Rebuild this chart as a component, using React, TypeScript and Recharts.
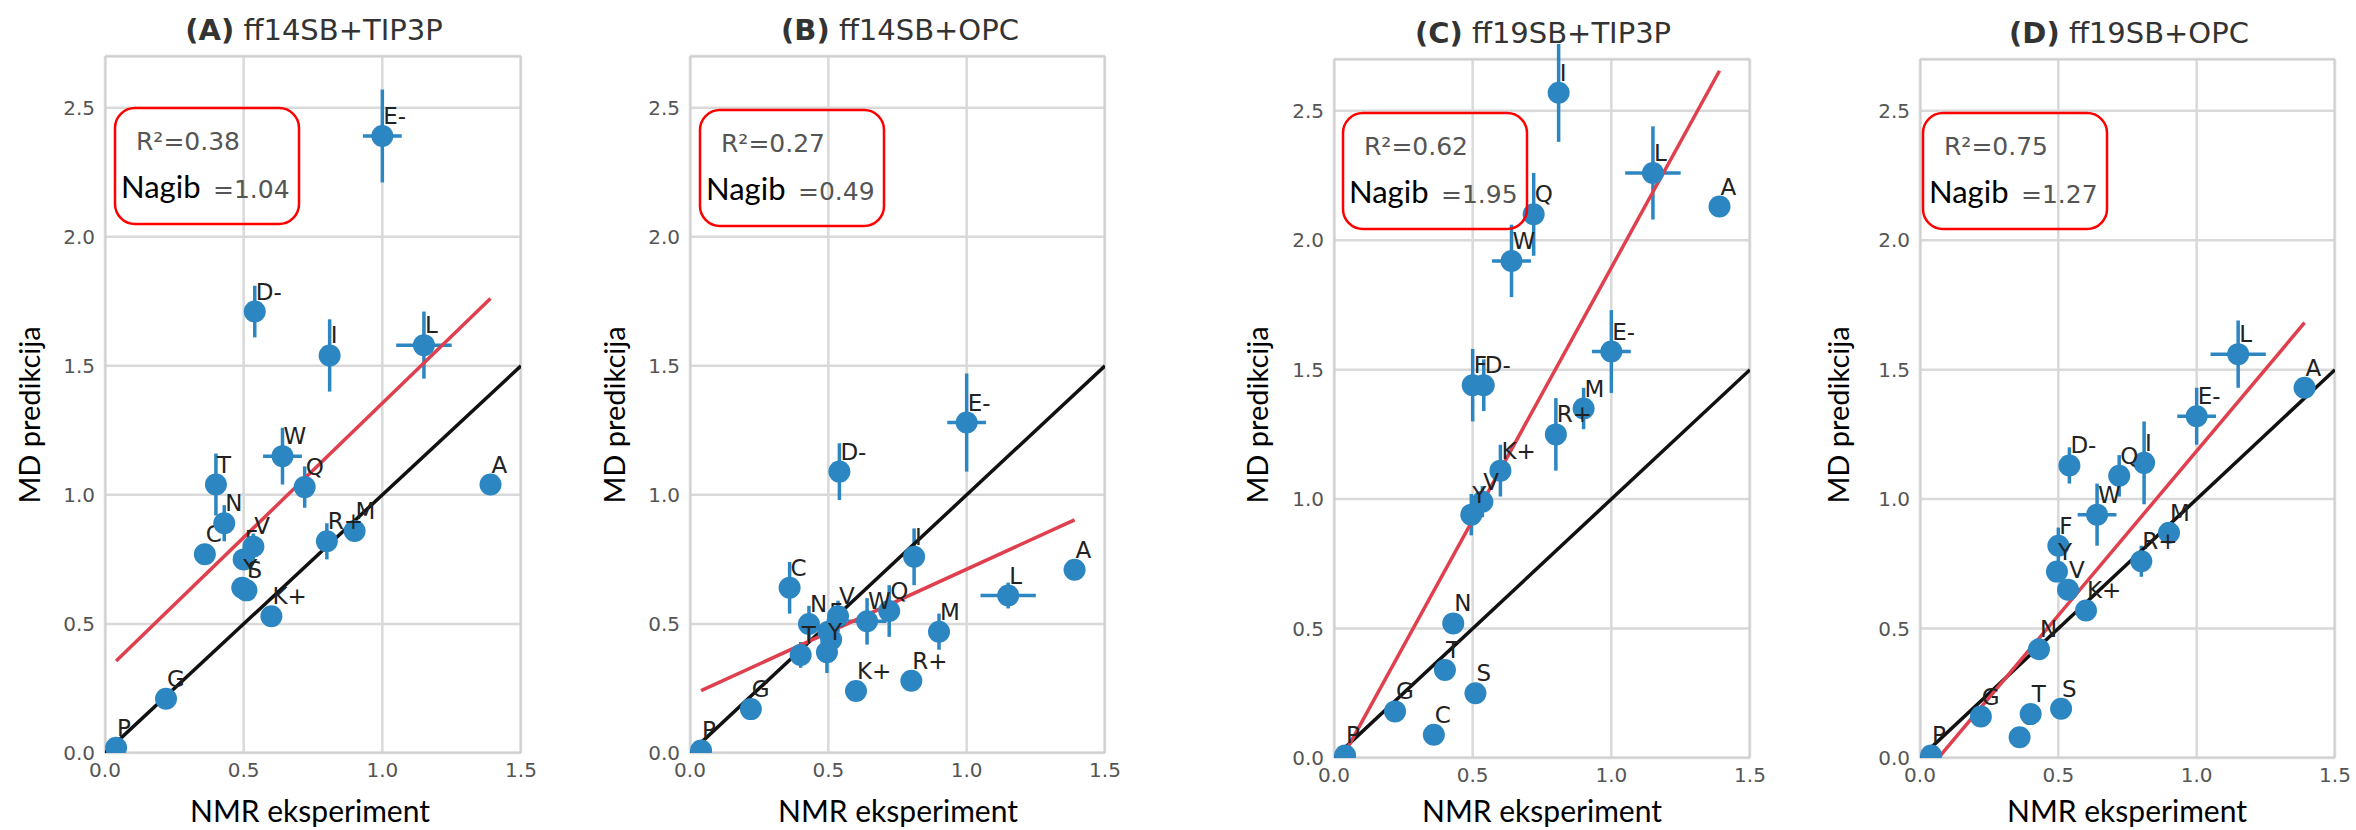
import React from "react";
import {
  ScatterChart,
  Scatter,
  XAxis,
  YAxis,
  CartesianGrid,
  ErrorBar,
  ReferenceLine,
  ReferenceArea,
} from "recharts";

const residues = ["A", "C", "D-", "E-", "F", "G", "I", "K+", "L", "M", "N", "P", "Q", "R+", "S", "T", "V", "W", "Y"];

// NMR experiment (x) and its error, same for every panel
const nmr = [1.39, 0.36, 0.54, 1.0, 0.5, 0.22, 0.81, 0.6, 1.15, 0.9, 0.43, 0.04, 0.72, 0.8, 0.51, 0.4, 0.535, 0.64, 0.495];
const nmrErr = [0, 0, 0, 0.07, 0, 0, 0, 0, 0.1, 0, 0, 0, 0, 0, 0, 0, 0, 0.07, 0];

// MD predictions per force field / water model
const mdA = [1.04, 0.77, 1.71, 2.39, 0.75, 0.21, 1.54, 0.53, 1.58, 0.86, 0.89, 0.02, 1.03, 0.82, 0.63, 1.04, 0.8, 1.15, 0.64];
const mdAErr = [0, 0.02, 0.1, 0.18, 0.04, 0, 0.14, 0, 0.13, 0.04, 0.07, 0, 0.08, 0.07, 0.02, 0.12, 0.05, 0.11, 0.03];
const mdB = [0.71, 0.64, 1.09, 1.28, 0.47, 0.17, 0.76, 0.24, 0.61, 0.47, 0.5, 0.01, 0.55, 0.28, 0.44, 0.38, 0.53, 0.51, 0.39];
const mdBErr = [0, 0.1, 0.11, 0.19, 0.05, 0, 0.11, 0, 0.05, 0.07, 0.07, 0, 0.1, 0, 0.04, 0.05, 0.06, 0.09, 0.08];
const mdC = [2.13, 0.09, 1.44, 1.57, 1.44, 0.18, 2.57, 1.11, 2.26, 1.35, 0.52, 0.01, 2.1, 1.25, 0.25, 0.34, 0.99, 1.92, 0.94];
const mdCErr = [0, 0, 0.1, 0.16, 0.14, 0, 0.19, 0.1, 0.18, 0.08, 0, 0, 0.16, 0.14, 0, 0, 0.06, 0.14, 0.08];
const mdD = [1.43, 0.08, 1.13, 1.32, 0.82, 0.16, 1.14, 0.57, 1.56, 0.87, 0.42, 0.01, 1.09, 0.76, 0.19, 0.17, 0.65, 0.94, 0.72];
const mdDErr = [0, 0, 0.07, 0.11, 0.07, 0, 0.16, 0, 0.13, 0.03, 0, 0, 0.08, 0.06, 0, 0, 0.03, 0.12, 0];

const panelKeys = ["(A)", "(B)", "(C)", "(D)"];
const panelNames = ["ff14SB+TIP3P", "ff14SB+OPC", "ff19SB+TIP3P", "ff19SB+OPC"];
const r2Values = ["0.38", "0.27", "0.62", "0.75"];
const slopeLabels = ["1.04", "0.49", "1.95", "1.27"];
const slopes = [1.04, 0.49, 1.95, 1.27];
const intercepts = [0.315, 0.222, -0.056, -0.084];

const xTicks = [0, 0.5, 1, 1.5];
const yTicks = [0, 0.5, 1, 1.5, 2, 2.5];

const BLUE = "#2c86c2";
const RED = "#e0404e";
const TICK_FONT = "DejaVu Sans";
const LABEL_FONT = "Lato";

// page geometry of each panel's plot area
const layout = [
  { left: 105, top: 56, w: 416, h: 697, titleX: 314, titleY: 40, yLabelX: 28, xLabelX: 310, boxX: 115, boxY: 108 },
  { left: 690, top: 56, w: 415, h: 697, titleX: 900, titleY: 40, yLabelX: 613, xLabelX: 898, boxX: 700, boxY: 110 },
  { left: 1334, top: 59, w: 416, h: 699, titleX: 1543, titleY: 43, yLabelX: 1256, xLabelX: 1542, boxX: 1343, boxY: 113 },
  { left: 1920, top: 59, w: 415, h: 699, titleX: 2129, titleY: 43, yLabelX: 1837, xLabelX: 2127, boxX: 1923, boxY: 113 },
];

const mdSeries = [mdA, mdB, mdC, mdD];
const mdErrSeries = [mdAErr, mdBErr, mdCErr, mdDErr];

function PointShape(props: any) {
  const { cx, cy, payload } = props;
  if (cx == null || cy == null) return null;
  return (
    <g>
      <circle cx={cx} cy={cy} r={11} fill={BLUE} />
      <text x={cx + 1} y={cy - 12} fontSize={23} fill="#222" fontFamily={TICK_FONT}>
        {payload.name}
      </text>
    </g>
  );
}

function Panel({ idx }: { idx: number }) {
  const g = layout[idx];
  const md = mdSeries[idx];
  const mdErr = mdErrSeries[idx];
  const data = residues.map((name, i) => ({
    name,
    x: nmr[i],
    y: md[i],
    ex: nmrErr[i],
    ey: mdErr[i],
  }));
  const xMin = Math.min(...nmr);
  const xMax = Math.max(...nmr);
  const fit = [
    { x: xMin, y: intercepts[idx] + slopes[idx] * xMin },
    { x: xMax, y: intercepts[idx] + slopes[idx] * xMax },
  ];

  const yAxisW = 70;
  const xAxisH = 45;
  const mTop = 15;
  const mRight = 15;

  return (
    <div style={{ position: "absolute", left: g.left - yAxisW, top: g.top - mTop }}>
      <ScatterChart
        width={g.w + yAxisW + mRight}
        height={g.h + mTop + xAxisH}
        margin={{ top: mTop, right: mRight, bottom: 0, left: 0 }}
      >
        <CartesianGrid stroke="#d9d9d9" strokeWidth={2.5} />
        <XAxis
          type="number"
          dataKey="x"
          domain={[0, 1.5]}
          ticks={xTicks}
          interval={0}
          allowDataOverflow
          axisLine={false}
          tickLine={false}
          tickSize={0}
          tickMargin={10}
          height={xAxisH}
          tickFormatter={(v: number) => v.toFixed(1)}
          tick={{ fill: "#555", fontSize: 20, fontFamily: TICK_FONT }}
        />
        <YAxis
          type="number"
          dataKey="y"
          domain={[0, 2.7]}
          ticks={yTicks}
          interval={0}
          allowDataOverflow
          axisLine={false}
          tickLine={false}
          tickSize={0}
          tickMargin={10}
          width={yAxisW}
          tickFormatter={(v: number) => v.toFixed(1)}
          tick={{ fill: "#555", fontSize: 20, fontFamily: TICK_FONT }}
        />
        <ReferenceArea x1={0} x2={1.5} y1={0} y2={2.7} fill="none" stroke="#d0d0d0" strokeWidth={3} ifOverflow="hidden" />
        <Scatter data={data} shape={PointShape} isAnimationActive={false}>
          <ErrorBar dataKey="ey" direction="y" width={0} stroke={BLUE} strokeWidth={3.5} />
          <ErrorBar dataKey="ex" direction="x" width={0} stroke={BLUE} strokeWidth={3.5} />
        </Scatter>
        <ReferenceLine
          segment={[{ x: 0, y: 0 }, { x: 1.5, y: 1.5 }]}
          stroke="#111"
          strokeWidth={3.5}
          ifOverflow="hidden"
        />
        <ReferenceLine segment={fit} stroke={RED} strokeWidth={3.5} ifOverflow="hidden" />
      </ScatterChart>
    </div>
  );
}

export default function App() {
  return (
    <div
      style={{
        position: "fixed",
        left: 0,
        top: 0,
        width: 2356,
        height: 830,
        background: "#fff",
        overflow: "hidden",
      }}
    >
      {layout.map((_, i) => (
        <Panel key={i} idx={i} />
      ))}
      <svg
        width={2356}
        height={830}
        style={{ position: "absolute", left: 0, top: 0, pointerEvents: "none" }}
      >
        {layout.map((g, i) => (
          <g key={i}>
            <text x={g.titleX} y={g.titleY} textAnchor="middle" fontSize={29} fill="#333" fontFamily={TICK_FONT}>
              <tspan fontWeight="bold">{panelKeys[i]}</tspan> {panelNames[i]}
            </text>
            <text x={g.xLabelX} y={822} textAnchor="middle" fontSize={30} fill="#000" fontFamily={LABEL_FONT}>
              NMR eksperiment
            </text>
            <text
              transform={`translate(${g.yLabelX}, 415) rotate(-90)`}
              textAnchor="middle"
              dominantBaseline="central"
              fontSize={29}
              fill="#000"
              fontFamily={LABEL_FONT}
            >
              MD predikcija
            </text>
            <rect x={g.boxX} y={g.boxY} width={184} height={116} rx={20} fill="none" stroke="#ff0000" strokeWidth={2.5} />
            <text x={g.boxX + 21} y={g.boxY + 42} fontSize={25} fill="#555" fontFamily={TICK_FONT}>
              R²={r2Values[i]}
            </text>
            <text x={g.boxX + 6} y={g.boxY + 90} fontSize={31} fill="#000" fontFamily={LABEL_FONT}>
              Nagib
            </text>
            <text x={g.boxX + 98} y={g.boxY + 90} fontSize={25} fill="#555" fontFamily={TICK_FONT}>
              ={slopeLabels[i]}
            </text>
          </g>
        ))}
      </svg>
    </div>
  );
}
